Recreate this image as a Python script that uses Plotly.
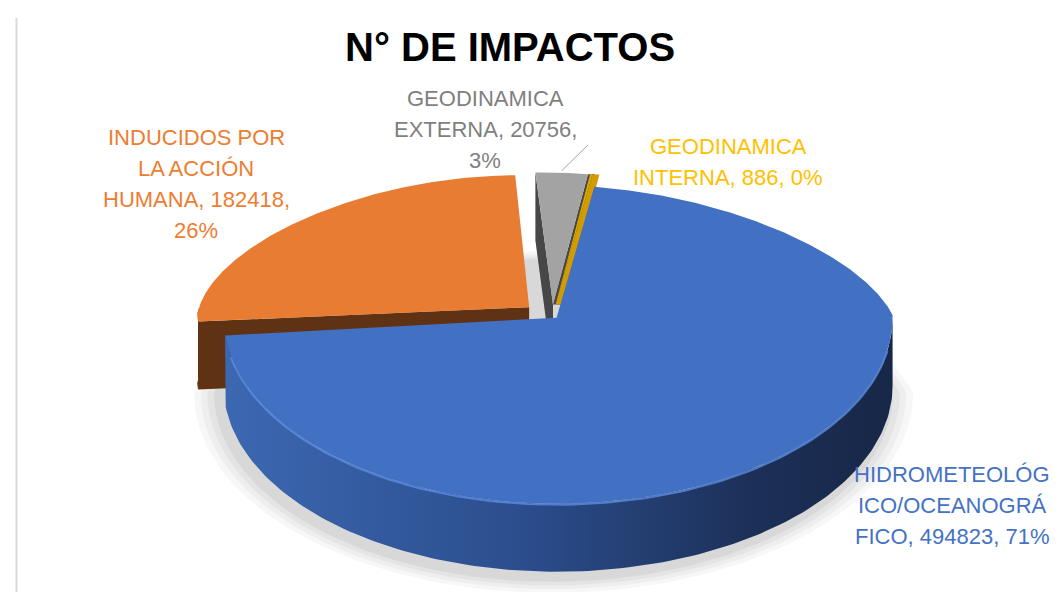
import numpy as np
import plotly.graph_objects as go

# ---------------- data ----------------
categories = ["GEODINAMICA EXTERNA", "GEODINAMICA INTERNA",
              "HIDROMETEOLÓGICO/OCEANOGRÁFICO", "INDUCIDOS POR LA ACCIÓN HUMANA"]
values = [20756, 886, 494823, 182418]
display_names = ["GEODINAMICA<br>EXTERNA", "GEODINAMICA<br>INTERNA",
                 "HIDROMETEOLÓG<br>ICO/OCEANOGRÁ<br>FICO", "INDUCIDOS POR<br>LA ACCIÓN<br>HUMANA"]
pct_on_new_line = [True, False, False, True]
title_text = "N° DE IMPACTOS"

# ---------------- style ----------------
top_colors = ["#A3A3A3", "#E0A800", "#4270C2", "#E97C33"]
face_colors = ["#474747", "#D29C00", "#2A4A85", "#5F3214"]
text_colors = ["#7F7F7F", "#FFC000", "#4472C4", "#ED7D31"]
explode = [0.08, 0.08, 0.02, 0.09]
label_pos = [(477, 121), (720, 154), (944, 497), (188, 176)]
LINE_GAP = 31
FONT = "Liberation Sans, Arial, sans-serif"

W, H = 1063, 592
CX, CY, A_L, A_R, BT, BB, D = 544, 307, 333, 336, 132, 186, 68
PERSP = 0.15
LEAN = 10
ROT = -1.5


def project(u, v, z=0.0):
    u = np.asarray(u, dtype=float)
    v = np.asarray(v, dtype=float)
    vf = np.clip(v, 0, None)
    a = np.where(u < 0, A_L, A_R) * (1 - PERSP * vf)
    b = np.where(v > 0, BT, BB)
    return CX + a * u - LEAN * vf, CY - b * v + z


total = float(sum(values))
fracs = [v / total for v in values]
starts = ROT + 360 * np.concatenate([[0], np.cumsum(fracs)[:-1]])
ends = ROT + 360 * np.cumsum(fracs)

fig = go.Figure()


def poly(xs, ys, color, gradient=None, opacity=1.0):
    xs = list(np.asarray(xs, dtype=float))
    ys = list(np.asarray(ys, dtype=float))
    kw = dict(x=xs + [xs[0]], y=ys + [ys[0]], mode="lines",
              fill="toself", fillcolor=color, line=dict(width=0, color=color),
              hoverinfo="skip", showlegend=False, opacity=opacity)
    if gradient is not None:
        kw["fillgradient"] = gradient
    fig.add_trace(go.Scatter(**kw))


# soft shadow under the pie
th = np.radians(np.linspace(0, 360, 200))
for s, al in [(1.075, 0.03), (1.055, 0.035), (1.035, 0.04), (1.015, 0.05)]:
    sx, sy = project(s * np.sin(th), s * np.cos(th), D + 10)
    poly(sx, sy, f"rgba(0,0,0,{al})")

grey_outer = None
order = [3, 0, 1, 2]          # back slices first, front (blue) last
for i in order:
    t0, t1 = starts[i], ends[i]
    mid = np.radians((t0 + t1) / 2)
    du, dv = explode[i] * np.sin(mid), explode[i] * np.cos(mid)
    vx, vy = project(du, dv)
    vxb, vyb = project(du, dv, D)

    def outer(t, z=0.0, du=du, dv=dv):
        r = np.radians(t)
        return project(np.sin(r) + du, np.cos(r) + dv, z)

    # radial faces that look towards the viewer
    for t, nrm, side in [(t0, t0 - 90, 0), (t1, t1 + 90, 1)]:
        if np.cos(np.radians(nrm)) < 0 and i != 2:
            ox, oy = outer(t)
            if side == 1:
                # narrow side face of a thin raised wedge, seen edge-on to the right
                poly([vx, ox, ox + 7, vx + 10], [vy, oy, oy, vy], face_colors[i])
            else:
                bx, by = outer(t, D)
                poly([vx, ox, bx, vxb], [vy, oy, by, vyb], face_colors[i])
    # outer wall (front half only)
    lo, hi = max(t0, 90), min(t1, 270)
    if hi > lo:
        ts = np.linspace(lo, hi, 160)
        tx, ty = outer(ts)
        bx, by = outer(ts[::-1], D)
        if i == 2:
            grad = dict(type="horizontal",
                        colorscale=[[0, "#3C68B2"], [0.45, "#2B4D8C"], [0.8, "#1C2F57"], [1, "#172747"]])
            poly(np.concatenate([tx, bx]), np.concatenate([ty, by]), "#2B4D8C", gradient=grad)
        else:
            poly(np.concatenate([tx, bx]), np.concatenate([ty, by]), face_colors[i])
    # top face
    ts = np.linspace(t0, t1, max(3, int((t1 - t0) * 2)))
    ax, ay = outer(ts)
    poly(np.concatenate([[vx], ax]), np.concatenate([[vy], ay]), top_colors[i])
    if i == 2:
        rs = np.linspace(max(t0, 100), min(t1, 258), 120)
        rx, ry = outer(rs)
        fig.add_trace(go.Scatter(x=rx, y=ry + 1, mode="lines", line=dict(color="#5C8CE0", width=2),
                                 opacity=0.8, hoverinfo="skip", showlegend=False))
    if i == 0:
        grey_outer = outer((t0 + t1) / 2)

# labels (one annotation per line, Excel-like line spacing)
annotations = []
for i in range(len(values)):
    pct = round(fracs[i] * 100)
    sep = ",<br>" if pct_on_new_line[i] else ", "
    txt = f"{display_names[i]}, {values[i]}{sep}{pct}%"
    lines = txt.split("<br>")
    x, y = label_pos[i]
    n = len(lines)
    for k, ln in enumerate(lines):
        annotations.append(dict(x=x, y=y + (k - (n - 1) / 2) * LINE_GAP, xref="x", yref="y",
                                text=ln, showarrow=False, xanchor="center", yanchor="middle",
                                font=dict(family=FONT, size=22, color=text_colors[i])))

annotations.append(dict(x=502, y=39, xref="x", yref="y", text=f"<b>{title_text}</b>", showarrow=False,
                        xanchor="center", yanchor="middle",
                        font=dict(family=FONT, size=40, color="#000000")))

gx, gy = float(grey_outer[0]), float(grey_outer[1])
shapes = [
    dict(type="line", x0=8.5, x1=8.5, y0=10, y1=592, xref="x", yref="y",
         line=dict(color="#D9D9D9", width=2)),
    dict(type="line", x0=gx, y0=gy - 2, x1=580, y1=137, xref="x", yref="y",
         line=dict(color="#A6A6A6", width=1)),
]

fig.update_layout(
    width=W, height=H, margin=dict(l=0, r=0, t=0, b=0),
    paper_bgcolor="white", plot_bgcolor="white",
    xaxis=dict(range=[0, W], visible=False, fixedrange=True),
    yaxis=dict(range=[H, 0], visible=False, fixedrange=True),
    annotations=annotations, shapes=shapes, showlegend=False,
)

fig.write_html("out.html")
